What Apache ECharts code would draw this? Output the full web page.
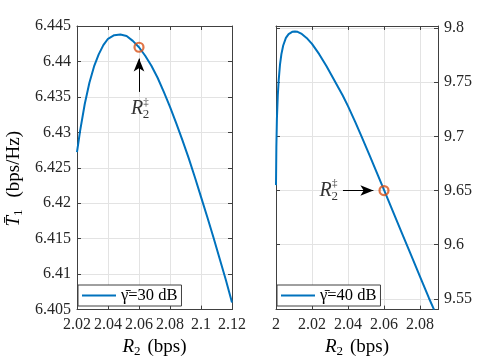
<!DOCTYPE html>
<html lang="en">
<head>
    <meta charset="UTF-8">
    <title>T1 vs R2</title>
    <style>
        body{ margin:0; background:#fff; }
    </style>
    <script src="https://cdn.jsdelivr.net/npm/echarts@6/dist/echarts.min.js"></script>
</head>
<body>
<div id="ec" style="width:485px;height:363px;"></div>

<script>
    // gamma = 30 dB (left panel)
    let r2_30 = [2.020, 2.022, 2.025, 2.028, 2.031, 2.034, 2.037, 2.040, 2.044, 2.048, 2.052, 2.056, 2.060,
        2.064, 2.068, 2.072, 2.076, 2.080, 2.084, 2.088, 2.092, 2.096, 2.100, 2.104, 2.108, 2.112, 2.116, 2.120];
    let t1_30 = [6.4272, 6.4302, 6.4340, 6.4370, 6.4393, 6.4410, 6.4423, 6.4432, 6.4437, 6.4438, 6.4436, 6.4429, 6.4420,
        6.4408, 6.4394, 6.4377, 6.4357, 6.4336, 6.4313, 6.4289, 6.4264, 6.4237, 6.4209, 6.4181, 6.4152, 6.4122, 6.4092, 6.4060];

    // gamma = 40 dB (right panel)
    let r2_40 = [2.0000, 2.0002, 2.0005, 2.0010, 2.0015, 2.0022, 2.0030, 2.0040, 2.0055, 2.0070, 2.0090, 2.0105,
        2.0120, 2.0140, 2.0170, 2.0200, 2.0240, 2.0280, 2.0330, 2.0370, 2.0400, 2.0440, 2.0475, 2.0520, 2.0560,
        2.0600, 2.0650, 2.0700, 2.0750, 2.0800, 2.0850, 2.0878];
    let t1_40 = [9.655, 9.690, 9.716, 9.738, 9.752, 9.766, 9.776, 9.784, 9.7910, 9.7945, 9.7966, 9.7970,
        9.7966, 9.7950, 9.7910, 9.7855, 9.7760, 9.7650, 9.7500, 9.7380, 9.7280, 9.7135, 9.7000, 9.6825, 9.6665,
        9.6505, 9.6305, 9.6105, 9.5905, 9.5705, 9.5505, 9.5400];

    // R2 double-dagger points
    let mark30 = [2.06, 6.442];
    let mark40 = [2.06, 9.65];
    // annotation: text anchor and arrow (start, tip)
    let note30 = [2.0587, 6.4333];
    let arrow30 = [[2.06, 6.4357], [2.06, 6.4404]];
    let note40 = [2.0276, 9.65];
    let arrow40 = [[2.0372, 9.65], [2.0541, 9.65]];

    let names = ['γ̄=30 dB', 'γ̄=40 dB'];

    let FONT = 'Liberation Serif';
    let AX = '#404040';
    let GRID = '#e3e3e3';

    function zip(xs, ys) {
        return xs.map(function (x, i) { return [x, ys[i]]; });
    }

    let nameRich = {
        i: {fontFamily: FONT, fontStyle: 'italic', fontSize: 19, color: '#000'},
        s: {fontFamily: FONT, fontSize: 13, color: '#000', verticalAlign: 'bottom', padding: [9, 0, 0, 0]},
        n: {fontFamily: FONT, fontSize: 19, color: '#000', padding: [0, 0, 0, 7]},
        m: {fontFamily: FONT, fontSize: 19, color: '#000', padding: [0, 22, 0, 12]}
    };

    function xMain(grid, min, max) {
        return {
            type: 'value', gridIndex: grid, position: 'bottom', min: min, max: max, interval: 0.02,
            name: '{i|R}{s|2}{n|(bps)}', nameLocation: 'middle', nameGap: 23,
            nameTextStyle: {rich: nameRich},
            axisLine: {onZero: false, lineStyle: {color: AX}},
            axisTick: {inside: true, length: 4, lineStyle: {color: AX}},
            axisLabel: {fontFamily: FONT, fontSize: 16, color: '#262626', margin: 7, showMaxLabel: grid === 0},
            splitLine: {show: true, lineStyle: {color: GRID}}
        };
    }

    function mirror(grid, min, max, interval, pos) {
        let a = {
            type: 'value', gridIndex: grid, position: pos, min: min, max: max,
            axisLine: {onZero: false, lineStyle: {color: AX}},
            axisTick: {inside: true, length: 4, lineStyle: {color: AX}},
            axisLabel: {show: false},
            splitLine: {show: false}
        };
        if (interval) a.interval = interval;
        return a;
    }

    function noteItems(pt) {
        return [
            {value: pt, label: {formatter: 'R', fontStyle: 'italic', fontSize: 20}},
            {value: pt, label: {formatter: '‡', fontSize: 11, offset: [9, -7]}},
            {value: pt, label: {formatter: '2', fontSize: 13, offset: [9, 6]}}
        ];
    }

    function noteSeries(xi, yi, pt) {
        return {
            type: 'scatter', xAxisIndex: xi, yAxisIndex: yi, symbolSize: 0, silent: true,
            label: {show: true, position: 'inside', fontFamily: FONT, color: '#000'},
            data: noteItems(pt), z: 5
        };
    }

    function markerSeries(xi, yi, pt, arrow) {
        return {
            type: 'scatter', xAxisIndex: xi, yAxisIndex: yi, symbol: 'circle', symbolSize: 9,
            itemStyle: {color: 'rgba(0,0,0,0)', borderColor: '#d95319', borderWidth: 2.2},
            data: [pt], z: 4,
            markLine: {
                silent: true, symbol: ['none', 'arrow'], symbolSize: [8, 13],
                label: {show: false},
                lineStyle: {color: '#000', width: 1, type: 'solid'},
                data: [[{coord: arrow[0]}, {coord: arrow[1]}]]
            }
        };
    }

    function legendBox(name, left) {
        return {
            data: [name], left: left, top: 285, orient: 'horizontal',
            icon: 'rect', itemWidth: 34, itemHeight: 2,
            padding: [2, 4, 2, 4], borderColor: AX, borderWidth: 1, backgroundColor: '#fff',
            textStyle: {fontFamily: FONT, fontSize: 16.5, color: '#000'}
        };
    }

    let chart = echarts.init(document.getElementById('ec'));
    let option = {
        animation: false,
        grid: [
            {left: 77, top: 26, width: 155, height: 287},
            {left: 276, top: 26, width: 162, height: 287}
        ],
        legend: [legendBox(names[0], 78), legendBox(names[1], 277)],
        xAxis: [
            xMain(0, 2.02, 2.12),
            mirror(0, 2.02, 2.12, 0.02, 'top'),
            xMain(1, 2, 2.09),
            mirror(1, 2, 2.09, 0.02, 'top')
        ],
        yAxis: [
            {
                type: 'value', gridIndex: 0, position: 'left', min: 6.405, max: 6.445, interval: 0.005,
                name: '{i|T̄}{s|1}{m|(bps/Hz)}', nameLocation: 'middle', nameGap: 52,
                nameTextStyle: {rich: nameRich},
                axisLine: {onZero: false, lineStyle: {color: AX}},
                axisTick: {inside: true, length: 4, lineStyle: {color: AX}},
                axisLabel: {fontFamily: FONT, fontSize: 16, color: '#262626', margin: 6},
                splitLine: {show: true, lineStyle: {color: GRID}}
            },
            mirror(0, 6.405, 6.445, 0.005, 'right'),
            {
                type: 'value', gridIndex: 1, position: 'right', min: 9.54, max: 9.802, splitNumber: 5,
                axisLine: {onZero: false, lineStyle: {color: AX}},
                axisTick: {inside: true, length: 4, lineStyle: {color: AX}},
                axisLabel: {fontFamily: FONT, fontSize: 16, color: '#262626', margin: 6,
                    showMinLabel: false, showMaxLabel: false},
                splitLine: {show: true, lineStyle: {color: GRID}}
            },
            mirror(1, 9.54, 9.802, null, 'left')
        ],
        series: [
            {
                name: names[0], type: 'line', xAxisIndex: 0, yAxisIndex: 0,
                data: zip(r2_30, t1_30), showSymbol: false, smooth: false,
                lineStyle: {color: '#0072bd', width: 2, join: 'round'}, itemStyle: {color: '#0072bd'}, z: 3
            },
            markerSeries(0, 0, mark30, arrow30),
            noteSeries(0, 0, note30),
            {
                name: names[1], type: 'line', xAxisIndex: 2, yAxisIndex: 2,
                data: zip(r2_40, t1_40), showSymbol: false, smooth: false,
                lineStyle: {color: '#0072bd', width: 2, join: 'round'}, itemStyle: {color: '#0072bd'}, z: 3
            },
            markerSeries(2, 2, mark40, arrow40),
            noteSeries(2, 2, note40)
        ]
    };
    chart.setOption(option, true);
</script>
</body>
</html>
